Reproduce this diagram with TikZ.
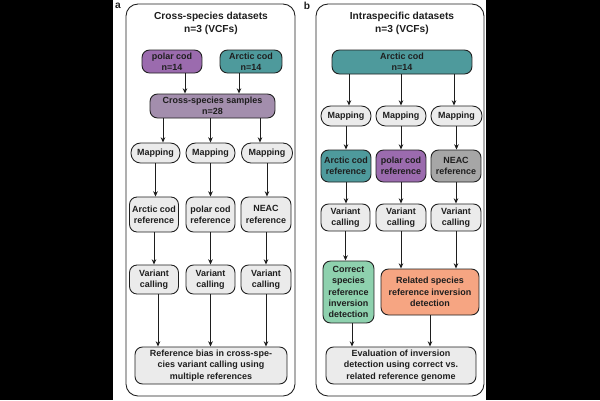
\documentclass[tikz,border=0pt]{standalone}
\usepackage{fontspec}
\setmainfont{Liberation Sans}
\usepackage{tikz}
\usetikzlibrary{arrows.meta}

\definecolor{pcpurple}{HTML}{9B6BAE}
\definecolor{acteal}{HTML}{4E9A9C}
\definecolor{cspurple}{HTML}{A38EAD}
\definecolor{boxgray}{HTML}{EBEBEB}
\definecolor{neacgray}{HTML}{A6A6A6}
\definecolor{corrgreen}{HTML}{8ED1AE}
\definecolor{relsalmon}{HTML}{F6A582}
\definecolor{ink}{HTML}{1E1E1E}

\begin{document}
\begin{tikzpicture}[x=0.02cm,y=-0.02cm,
    stepbox/.style={draw=ink,line width=0.5pt,rounded corners=0.15cm,fill=boxgray,
        inner sep=0pt,align=center,text=ink,
        font=\fontsize{5.1}{6.4}\selectfont\bfseries,minimum width=0.98cm},
    titletext/.style={align=center,text=ink,font=\fontsize{5.8}{7.4}\selectfont\bfseries},
    arr/.style={draw=ink,line width=0.55pt,-{Stealth[length=3pt,width=2.6pt]}}]
            \useasboundingbox (0,0) rectangle (600,400);
            \fill[white] (0,0) rectangle (600,400);
            \fill[black] (0,0) rectangle (113,400);
            \fill[black] (486,0) rectangle (600,400);

            % panel a
            \draw[ink,line width=0.5pt,rounded corners=0.24cm] (126,4) rectangle (295,396);
            \node[titletext] (labA) at (118,6){a};
            \node[titletext] (titleA) at (211,23){Cross-species datasets\\n=3 (VCFs)};
            \node[stepbox,fill=pcpurple,minimum width=1.2cm,minimum height=0.46cm] (pc) at (172,61.5){polar cod\\n=14};
            \node[stepbox,fill=acteal,minimum width=1.24cm,minimum height=0.46cm] (ac) at (251,61.5){Arctic cod\\n=14};
            \node[stepbox,fill=cspurple,minimum width=2.5cm,minimum height=0.48cm] (cs) at (212.5,106){Cross-species samples\\n=28};
            \node[stepbox,minimum height=0.4cm,rounded corners=0.19cm] (m1) at (155.5,153){Mapping};
            \node[stepbox,minimum height=0.4cm,rounded corners=0.19cm] (m2) at (210.5,153){Mapping};
            \node[stepbox,minimum height=0.4cm,rounded corners=0.19cm,minimum width=1.02cm] (m3) at (267,153){Mapping};
            \node[stepbox,minimum height=0.7cm] (r1) at (154,214.5){Arctic cod\\reference};
            \node[stepbox,minimum height=0.7cm] (r2) at (210.5,214.5){polar cod\\reference};
            \node[stepbox,minimum height=0.7cm,minimum width=1cm] (r3) at (266,214.5){NEAC\\reference};
            \node[stepbox,minimum height=0.58cm] (v1) at (154,279.5){Variant\\calling};
            \node[stepbox,minimum height=0.58cm] (v2) at (210.5,279.5){Variant\\calling};
            \node[stepbox,minimum height=0.58cm,minimum width=1cm] (v3) at (266,279.5){Variant\\calling};
            \node[stepbox,minimum width=3.04cm,minimum height=0.74cm] (biasA) at (211,365.5){Reference bias in cross-spe-\\cies variant calling using\\multiple references};

            \draw[arr] ([xshift=0.26cm]pc.south) -- ([xshift=0.26cm]pc.south |- cs.north);
            \draw[arr] ([xshift=-0.24cm]ac.south) -- ([xshift=-0.24cm]ac.south |- cs.north);
            \draw[arr] ([xshift=0.15cm]m1.north |- cs.south) -- ([xshift=0.15cm]m1.north);
            \draw[arr] (m2.north |- cs.south) -- (m2.north);
            \draw[arr] ([xshift=-0.14cm]m3.north |- cs.south) -- ([xshift=-0.14cm]m3.north);
            \draw[arr] (m1.south) -- (m1.south |- r1.north);
            \draw[arr] (m2.south) -- (m2.south |- r2.north);
            \draw[arr] (m3.south) -- (m3.south |- r3.north);
            \draw[arr] (r1.south) -- (v1.north);
            \draw[arr] (r2.south) -- (v2.north);
            \draw[arr] (r3.south) -- (v3.north);
            \draw[arr] ([xshift=0.08cm]v1.south) -- ([xshift=0.08cm]v1.south |- biasA.north);
            \draw[arr] (v2.south) -- (v2.south |- biasA.north);
            \draw[arr] (v3.south) -- (v3.south |- biasA.north);

            % panel b
            \draw[ink,line width=0.5pt,rounded corners=0.24cm] (316,4) rectangle (484,396);
            \node[titletext] (labB) at (307,6){b};
            \node[titletext] (titleB) at (402,23){Intraspecific datasets\\n=3 (VCFs)};
            \node[stepbox,fill=acteal,minimum width=2.8cm,minimum height=0.48cm] (acb) at (402,62){Arctic cod\\n=14};
            \node[stepbox,minimum height=0.4cm,rounded corners=0.19cm,minimum width=1cm] (mb1) at (346,116){Mapping};
            \node[stepbox,minimum height=0.4cm,rounded corners=0.19cm,minimum width=1cm] (mb2) at (401,116){Mapping};
            \node[stepbox,minimum height=0.4cm,rounded corners=0.19cm,minimum width=1.02cm] (mb3) at (456.5,116){Mapping};
            \node[stepbox,fill=acteal,minimum height=0.64cm,minimum width=1cm] (rb1) at (346,166){Arctic cod\\reference};
            \node[stepbox,fill=pcpurple,minimum height=0.64cm,minimum width=1cm] (rb2) at (401,166){polar cod\\reference};
            \node[stepbox,fill=neacgray,minimum height=0.64cm,minimum width=1cm] (rb3) at (456,166){NEAC\\reference};
            \node[stepbox,minimum height=0.54cm] (vb1) at (345.5,217.5){Variant\\calling};
            \node[stepbox,minimum height=0.54cm,minimum width=1cm] (vb2) at (401,217.5){Variant\\calling};
            \node[stepbox,minimum height=0.54cm,minimum width=1cm] (vb3) at (456,217.5){Variant\\calling};
            \node[stepbox,fill=corrgreen,minimum width=1.02cm,minimum height=1.24cm] (corr) at (348.5,292){Correct\\species\\reference\\inversion\\detection};
            \node[stepbox,fill=relsalmon,minimum width=1.96cm,minimum height=0.92cm] (rel) at (430,292){Related species\\reference inversion\\detection};
            \node[stepbox,minimum width=3cm,minimum height=0.74cm] (evalb) at (401,365.5){Evaluation of inversion\\detection using correct vs.\\related reference genome};

            \draw[arr] ([xshift=0.06cm]mb1.north |- acb.south) -- ([xshift=0.06cm]mb1.north);
            \draw[arr] (mb2.north |- acb.south) -- (mb2.north);
            \draw[arr] ([xshift=-0.05cm]mb3.north |- acb.south) -- ([xshift=-0.05cm]mb3.north);
            \draw[arr] (mb1.south) -- (rb1.north);
            \draw[arr] (mb2.south) -- (rb2.north);
            \draw[arr] (mb3.south) -- (mb3.south |- rb3.north);
            \draw[arr] (rb1.south) -- (rb1.south |- vb1.north);
            \draw[arr] (rb2.south) -- (vb2.north);
            \draw[arr] (rb3.south) -- (vb3.north);
            \draw[arr] (vb1.south) -- (vb1.south |- corr.north);
            \draw[arr] (vb2.south) -- (vb2.south |- rel.north);
            \draw[arr] (vb3.south) -- (vb3.south |- rel.north);
            \draw[arr] ([xshift=0.07cm]corr.south) -- ([xshift=0.07cm]corr.south |- evalb.north);
            \draw[arr] (rel.south) -- (rel.south |- evalb.north);
        \end{tikzpicture}
\end{document}
